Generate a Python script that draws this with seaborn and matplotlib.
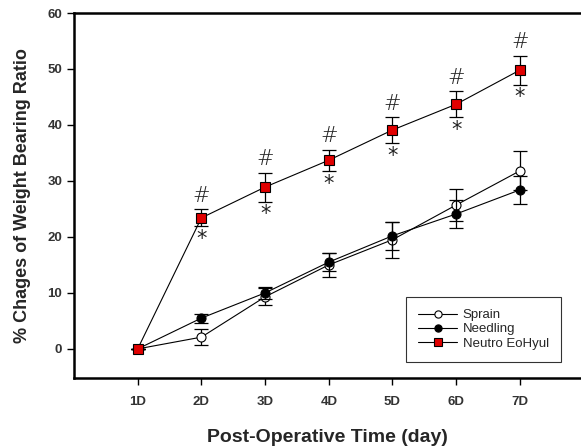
import numpy as np
import pandas as pd
import matplotlib
matplotlib.use("Agg")
import matplotlib.pyplot as plt
import seaborn as sns

days = [1, 2, 3, 4, 5, 6, 7]
day_labels = ["1D", "2D", "3D", "4D", "5D", "6D", "7D"]

sprain = [0, 2.1, 9.3, 15.0, 19.5, 25.7, 31.8]
sprain_err = [0, 1.4, 1.5, 2.1, 3.2, 2.9, 3.5]
needling = [0, 5.5, 10.0, 15.5, 20.2, 24.1, 28.4]
needling_err = [0, 0.8, 1.0, 1.6, 2.5, 2.5, 2.5]
neutro = [0, 23.4, 28.9, 33.7, 39.1, 43.7, 49.8]
neutro_err = [0, 1.5, 2.6, 1.9, 2.3, 2.3, 2.6]

series_names = ["Sprain", "Needling", "Neutro EoHyul"]

sns.set_style("white")
plt.rcParams['font.family'] = ['Liberation Sans', 'DejaVu Sans']

df = pd.DataFrame({
    "day": days * 3,
    "value": sprain + needling + neutro,
    "group": [series_names[0]] * 7 + [series_names[1]] * 7 + [series_names[2]] * 7,
})

fig = plt.figure(figsize=(5.81, 4.46), dpi=100)
ax = fig.add_axes([74 / 581, 1 - 378 / 446, 1 - 74 / 581, (378 - 13) / 446])

styles = {
    "Sprain": dict(marker="o", mfc="white", mec="black", ms=6.5, z=3),
    "Needling": dict(marker="o", mfc="black", mec="black", ms=6.5, z=4),
    "Neutro EoHyul": dict(marker="s", mfc="#e00000", mec="black", ms=6.5, z=5),
}
errs = {"Sprain": sprain_err, "Needling": needling_err, "Neutro EoHyul": neutro_err}

for name in series_names:
    sub = df[df.group == name]
    st = styles[name]
    ax.errorbar(sub["day"], sub["value"], yerr=errs[name], fmt="none",
                ecolor="black", elinewidth=0.9, capsize=5, capthick=0.9, zorder=st["z"] - 0.5)
    sns.lineplot(data=sub, x="day", y="value", ax=ax, color="black", linewidth=0.8,
                 marker=st["marker"], markerfacecolor=st["mfc"], markeredgecolor=st["mec"],
                 markersize=st["ms"], markeredgewidth=0.8, label=name, zorder=st["z"])

# significance marks
for d, v, e in zip(days[1:], neutro[1:], neutro_err[1:]):
    ax.text(d, v + e + 0.6, "#", ha="center", va="bottom", fontsize=15,
            family="DejaVu Sans", fontweight="light", color="#222222")
    ax.text(d, v - e - 0.5, "*", ha="center", va="top", fontsize=15,
            family="DejaVu Sans", color="#222222")

ax.set_xlim(0, 7.96)
ax.set_ylim(-5.2, 60)
ax.set_xticks(days)
ax.set_xticklabels(day_labels)
ax.set_yticks([0, 10, 20, 30, 40, 50, 60])
ax.tick_params(axis="both", direction="out", length=5, width=1, color="black",
               labelsize=9.5, labelcolor="#333333", bottom=True, left=True)
ax.tick_params(axis="x", pad=8)
for lbl in ax.get_xticklabels() + ax.get_yticklabels():
    lbl.set_fontweight("bold")

ax.set_xlabel("Post-Operative Time (day)", fontsize=14, fontweight="bold", labelpad=15)
ax.set_ylabel("% Chages of Weight Bearing Ratio", fontsize=13, fontweight="bold", labelpad=12)

for s in ["left", "top", "bottom"]:
    ax.spines[s].set_linewidth(1.8)
    ax.spines[s].set_color("black")
ax.spines["right"].set_visible(False)

leg = ax.legend(loc="lower right", bbox_to_anchor=(0.96, 0.045), frameon=True, fancybox=False,
                fontsize=9.5, handlelength=3.0, borderpad=0.9, labelspacing=0.15,
                handletextpad=0.4, edgecolor="black", markerscale=0.8, borderaxespad=0)
leg.get_frame().set_linewidth(0.8)
leg.get_frame().set_facecolor("white")

fig.savefig("out.png", dpi=100)
